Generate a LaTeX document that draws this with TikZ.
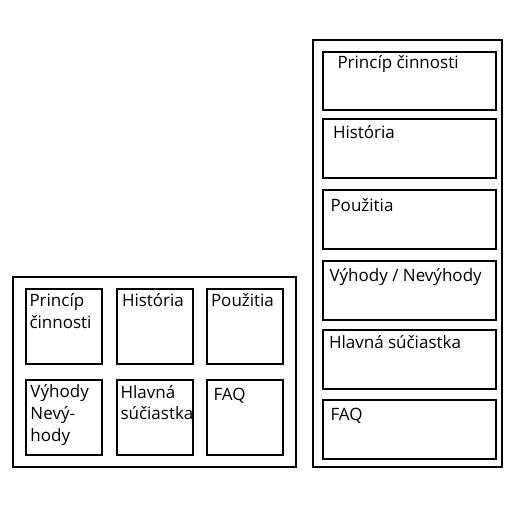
\documentclass[tikz,border=0pt]{standalone}
\usepackage{fontspec}
\setmainfont{Open Sans}

\begin{document}
\begin{tikzpicture}[x=1pt, y=-1pt, line width=2pt,
  panel/.style={draw, rectangle},
  tile/.style={draw, rectangle, anchor=north west, inner sep=0pt},
  sq/.style={tile, minimum width=76pt, minimum height=75pt},
  bar/.style={tile, minimum width=173pt, minimum height=58.5pt},
  lbl/.style={anchor=base west, inner sep=0pt, font=\fontsize{17}{21.6}\selectfont, align=left}]
  \useasboundingbox (0,0) rectangle (512,512);

  % left panel: 3x2 grid
  \draw[panel] (13,277) rectangle (296,467);
  \node[sq] (lp1) at (25,287.5) {};
  \node[sq] (lh1) at (116,287.5) {};
  \node[sq] (lu1) at (206,287.5) {};
  \node[sq] (lv1) at (25,378.5) {};
  \node[sq] (ls1) at (116,378.5) {};
  \node[sq] (lf1) at (206,378.5) {};

  % base = last line
  \node[lbl] (tp1) at (28.5,328.3) {Princíp\\činnosti};
  \node[lbl] (th1) at (121,306.7) {História};
  \node[lbl] (tu1) at (210,306.7) {Použitia};
  \node[lbl] (tv1) at (29.5,441) {Výhody\\Nevý-\\hody};
  \node[lbl] (ts1) at (119.5,419.7) {Hlavná\\súčiastka};
  \node[lbl] (tf1) at (212.5,400.5) {FAQ};

  % right panel: one column
  \draw[panel] (313,40) rectangle (502,467);
  \node[bar] (rp2) at (322,50.7) {};
  \node[bar] (rh2) at (322,118.3) {};
  \node[bar] (ru2) at (322,189.3) {};
  \node[bar] (rv2) at (322,260) {};
  \node[bar] (rs2) at (322,329.3) {};
  \node[bar] (rf2) at (322,399) {};

  \node[lbl] (tp2) at (336.5,68) {Princíp činnosti};
  \node[lbl] (th2) at (332,138) {História};
  \node[lbl] (tu2) at (329.5,211) {Použitia};
  \node[lbl] (tv2) at (328.5,281) {Výhody / Nevýhody};
  \node[lbl] (ts2) at (328,348) {Hlavná súčiastka};
  \node[lbl] (tf2) at (329.5,420) {FAQ};
\end{tikzpicture}
\end{document}
